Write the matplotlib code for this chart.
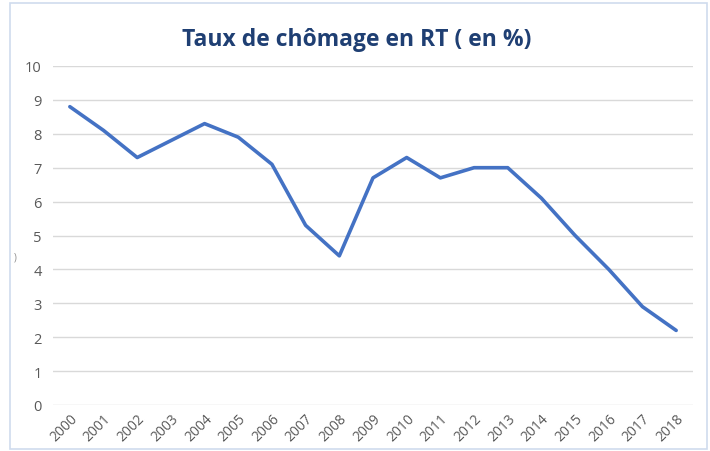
import matplotlib.pyplot as plt
from matplotlib.patches import Rectangle

years = [str(y) for y in range(2000, 2019)]
taux = [8.8, 8.1, 7.3, 7.8, 8.3, 7.9, 7.1, 5.3, 4.4, 6.7,
        7.3, 6.7, 7.0, 7.0, 6.1, 5.0, 4.0, 2.9, 2.2]
yticks = list(range(0, 11))

W, H = 710, 452
fig = plt.figure(figsize=(W / 100, H / 100), dpi=100)

# chart frame
fig.patches.append(Rectangle((10 / W, 1 - 450 / H), 697 / W, 446 / H,
                             transform=fig.transFigure, fill=False,
                             edgecolor='#cfdcee', linewidth=1.2))

ax = fig.add_axes([53 / W, 1 - 406 / H, 640 / W, 339 / H])
x = range(len(years))
ax.plot(x, taux, color='#4472c4', linewidth=2.6, solid_capstyle='round',
        solid_joinstyle='round', zorder=3)

ax.set_xlim(-0.5, len(years) - 0.5)
ax.set_ylim(0, 10)
ax.set_yticks(yticks)
ax.set_yticklabels([str(t) for t in yticks])
ax.set_xticks(list(x))
ax.set_xticklabels(years, rotation=45, ha='right', rotation_mode='anchor')

ax.grid(axis='y', color='#d9d9d9', linewidth=1)
ax.set_axisbelow(True)
for s in ax.spines.values():
    s.set_visible(False)
ax.tick_params(axis='both', length=0, colors='#595959')
ax.tick_params(axis='y', pad=8, labelsize=10.5)
ax.tick_params(axis='x', pad=4, labelsize=10)
for lab in ax.get_xticklabels() + ax.get_yticklabels():
    lab.set_family('Open Sans')

# leftover of a clipped axis title
fig.text(15 / W, 1 - 258 / H, ')', ha='center', va='center', fontsize=7,
         color='#8c8c8c', family='Open Sans')

fig.text(357 / W, 1 - 40 / H, 'Taux de chômage en RT ( en %)',
         ha='center', va='center', fontsize=16.5, fontweight='bold',
         color='#1f3f73', family='Open Sans')

fig.savefig('out.png', dpi=100)
